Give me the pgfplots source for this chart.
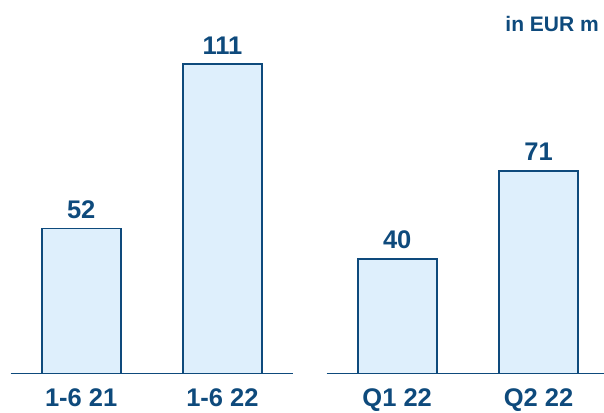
\documentclass[border=0pt]{standalone}
\usepackage{fontspec}
\setmainfont{Liberation Sans}
\usepackage{pgfplots}
\pgfplotsset{compat=1.18}
\definecolor{dblue}{RGB}{14,74,124}
\definecolor{lblue}{RGB}{222,239,252}
\pgfplotsset{
  mybars/.style={
    scale only axis, x=1pt, ymin=0, ymax=130,
    axis x line=bottom, axis y line=none,
    axis line style={draw=dblue, line width=1.6pt, -},
    major tick length=0pt,
    xtick=data,
    ytick=\empty,
    clip=false,
    ybar, bar width=79pt,
    xticklabel style={font=\fontsize{25.5}{30}\selectfont\bfseries, text=dblue, yshift=-12pt},
    nodes near coords={\pgfmathprintnumber[assume math mode=true]{\pgfplotspointmeta}},
    nodes near coords style={font=\fontsize{25.5}{30}\selectfont\bfseries, text=dblue, anchor=south, yshift=6pt},
  }
}
\begin{document}
\begin{tikzpicture}[x=1pt,y=1pt]
\path[use as bounding box] (0,0) rectangle (604,412);
\begin{axis}[mybars, y=2.785pt, at={(10.5pt,38.7pt)}, anchor=origin, xmin=10.5, xmax=293,
  xticklabels={1-6 21,1-6 22}]
\addplot[fill=lblue, draw=dblue, line width=1.6pt] coordinates {(81.2,52) (222.4,111)};
\end{axis}
\begin{axis}[mybars, y=2.85pt, at={(326.5pt,38.7pt)}, anchor=origin, xmin=326.5, xmax=604,
  xticklabels={Q1 22,Q2 22}]
\addplot[fill=lblue, draw=dblue, line width=1.6pt] coordinates {(397.2,40) (538.5,71)};
\end{axis}
\node[anchor=north east, inner sep=0pt, text=dblue, font=\fontsize{21}{25}\selectfont\bfseries] at (599,396) {in EUR m};
\end{tikzpicture}
\end{document}
